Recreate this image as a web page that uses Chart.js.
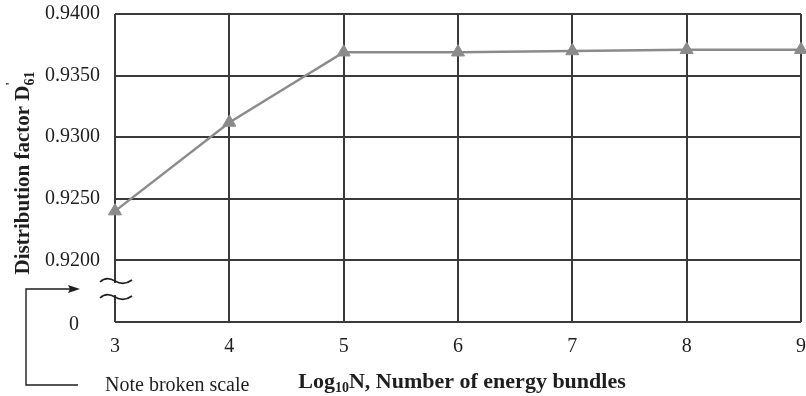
<!DOCTYPE html>
<html>
<head>
<meta charset="utf-8">
<script src="https://cdn.jsdelivr.net/npm/chart.js@4.4.1/dist/chart.umd.min.js"></script>
<style>
  html, body { margin: 0; padding: 0; background: #fff; }
  #frame { width: 806px; height: 396px; overflow: hidden; }
  canvas { display: block; }
</style>
</head>
<body>
<div id="frame"><canvas id="chart" width="820" height="396"></canvas></div>
<script>
// log10 of the bundle count vs. the computed distribution factor
const logN = [3, 4, 5, 6, 7, 8, 9];
const distributionFactor = [0.9240, 0.9312, 0.9369, 0.9369, 0.9370, 0.9371, 0.9371];
const xTicks = [3, 4, 5, 6, 7, 8, 9];
// lowest tick stands for the broken part of the axis, labelled "0"
const yTicks = [0.915, 0.92, 0.925, 0.93, 0.935, 0.94];
const yTickLabels = ["0", "0.9200", "0.9250", "0.9300", "0.9350", "0.9400"];

const SERIF = "'Liberation Serif', 'Times New Roman', serif";
const INK = "#1e1e1e";
const GRID = "#3a3a3a";
const SERIES = "#8b8b8b";

function drawRich(ctx, parts, x, y) {
  // parts: [{text, size, bold, dy}] laid out left to right from x
  let cx = x;
  parts.forEach((p) => {
    ctx.font = `${p.bold ? "bold " : ""}${p.size}px ${SERIF}`;
    ctx.fillText(p.text, cx, y + (p.dy || 0));
    cx += p.advance != null ? p.advance : ctx.measureText(p.text).width;
  });
}

function richWidth(ctx, parts) {
  return parts.reduce((w, p) => {
    ctx.font = `${p.bold ? "bold " : ""}${p.size}px ${SERIF}`;
    return w + (p.advance != null ? p.advance : ctx.measureText(p.text).width);
  }, 0);
}

// keep the plot box where the layout padding puts it
function noLabelOverflow(scale) {
  scale.paddingTop = 0;
  scale.paddingBottom = 0;
  scale.paddingLeft = 0;
  scale.paddingRight = 0;
}

const annotations = {
  id: "annotations",
  afterDraw(chart) {
    const ctx = chart.ctx;
    const xs = chart.scales.x;
    const ys = chart.scales.y;
    const left = xs.getPixelForValue(xTicks[0]);
    const bottom = ys.getPixelForValue(yTicks[0]);
    ctx.save();
    ctx.fillStyle = INK;

    // the "0" label of the broken axis
    ctx.font = `20px ${SERIF}`;
    ctx.textAlign = "center";
    ctx.textBaseline = "middle";
    ctx.fillText(yTickLabels[0], 74, bottom + 3);

    // gap in the left axis with the two wavy break marks
    const breakTop = bottom - 41;
    const breakBottom = bottom - 25;
    ctx.fillStyle = "#fff";
    ctx.fillRect(left - 3, breakTop + 2, 6, breakBottom - breakTop - 4);
    ctx.strokeStyle = INK;
    ctx.lineWidth = 1.6;
    [breakTop, breakBottom].forEach((yy) => {
      ctx.beginPath();
      ctx.moveTo(left - 15, yy + 1);
      ctx.bezierCurveTo(left - 10, yy - 4, left - 5, yy - 3, left, yy);
      ctx.bezierCurveTo(left + 5, yy + 3, left + 10, yy + 4, left + 17, yy - 1);
      ctx.stroke();
    });

    // "Note broken scale" pointer
    const arrowY = bottom - 33;
    const noteY = 385;
    ctx.lineWidth = 1.4;
    ctx.beginPath();
    ctx.moveTo(78, noteY);
    ctx.lineTo(26, noteY);
    ctx.lineTo(26, arrowY);
    ctx.lineTo(72, arrowY);
    ctx.stroke();
    ctx.fillStyle = INK;
    ctx.beginPath();
    ctx.moveTo(80, arrowY);
    ctx.lineTo(68, arrowY - 4);
    ctx.lineTo(70, arrowY);
    ctx.lineTo(68, arrowY + 4);
    ctx.closePath();
    ctx.fill();
    ctx.font = `20px ${SERIF}`;
    ctx.textAlign = "left";
    ctx.textBaseline = "middle";
    ctx.fillText("Note broken scale", 105, noteY + 1);

    // x axis title with subscript
    ctx.textBaseline = "alphabetic";
    const xParts = [
      { text: "Log", size: 22, bold: true },
      { text: "10", size: 14, bold: true, dy: 4 },
      { text: "N, Number of energy bundles", size: 22, bold: true }
    ];
    const xw = richWidth(ctx, xParts);
    const xc = (chart.chartArea.left + chart.chartArea.right) / 2 + 4;
    drawRich(ctx, xParts, xc - xw / 2, 388);

    // y axis title, rotated, with prime and subscript
    const yParts = [
      { text: "Distribution factor D", size: 21, bold: true },
      { text: "'", size: 12, bold: true, dy: -15, advance: 0 },
      { text: "61", size: 14, bold: true, dy: 5 }
    ];
    const yw = richWidth(ctx, yParts);
    ctx.translate(29, 173);
    ctx.rotate(-Math.PI / 2);
    drawRich(ctx, yParts, -yw / 2, 0);
    ctx.restore();
  }
};

new Chart(document.getElementById("chart"), {
  type: "line",
  data: {
    labels: logN,
    datasets: [
      {
        data: logN.map((x, i) => ({ x, y: distributionFactor[i] })),
        borderColor: SERIES,
        backgroundColor: SERIES,
        borderWidth: 2.5,
        pointStyle: "triangle",
        pointRadius: 7.5,
        pointBackgroundColor: SERIES,
        pointBorderColor: SERIES,
        pointBorderWidth: 1,
        tension: 0,
        clip: false
      }
    ]
  },
  options: {
    responsive: false,
    animation: false,
    devicePixelRatio: 1,
    // canvas is wider than the frame so the last tick label runs off the edge
    layout: { padding: { top: 14, right: 19, left: 0, bottom: 0 } },
    plugins: {
      legend: { display: false },
      tooltip: { enabled: false }
    },
    scales: {
      x: {
        type: "linear",
        min: xTicks[0],
        max: xTicks[xTicks.length - 1],
        afterBuildTicks(scale) {
          scale.ticks = xTicks.map((value) => ({ value }));
        },
        afterFit(scale) {
          scale.height = 74;
          noLabelOverflow(scale);
        },
        border: { display: false },
        grid: { color: GRID, lineWidth: 2, drawTicks: false },
        ticks: {
          color: INK,
          padding: 13,
          font: { family: SERIF, size: 20 },
          callback(value) {
            return String(value);
          }
        }
      },
      y: {
        type: "linear",
        min: yTicks[0],
        max: yTicks[yTicks.length - 1],
        afterBuildTicks(scale) {
          scale.ticks = yTicks.map((value) => ({ value }));
        },
        afterFit(scale) {
          scale.width = 115;
          noLabelOverflow(scale);
        },
        border: { display: false },
        grid: { color: GRID, lineWidth: 2, drawTicks: false },
        ticks: {
          color: INK,
          padding: 15,
          font: { family: SERIF, size: 20 },
          callback(value, index) {
            return index === 0 ? "" : yTickLabels[index];
          }
        }
      }
    }
  },
  plugins: [annotations]
});
</script>
</body>
</html>
